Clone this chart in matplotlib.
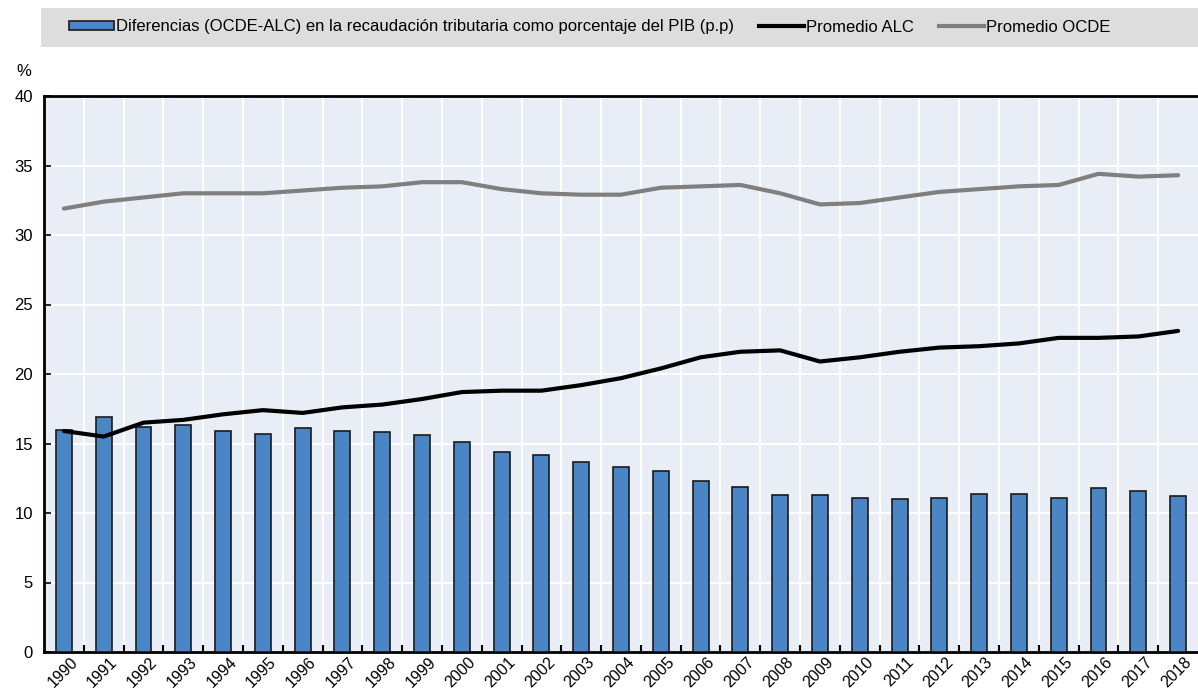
import matplotlib.pyplot as plt
import matplotlib.transforms as mtransforms
from matplotlib.patches import Rectangle, Patch
from matplotlib.lines import Line2D
import numpy as np

plt.rcParams["font.family"] = ["Liberation Sans", "DejaVu Sans"]
plt.rcParams["font.size"] = 12

# data
years = [str(y) for y in range(1990, 2019)]
diferencias = [16.0, 16.9, 16.2, 16.3, 15.9, 15.7, 16.1, 15.9, 15.8, 15.6,
               15.1, 14.4, 14.2, 13.7, 13.3, 13.0, 12.3, 11.9, 11.3, 11.3,
               11.1, 11.0, 11.1, 11.4, 11.4, 11.1, 11.8, 11.6, 11.2]
promedio_alc = [15.9, 15.5, 16.5, 16.7, 17.1, 17.4, 17.2, 17.6, 17.8, 18.2,
                18.7, 18.8, 18.8, 19.2, 19.7, 20.4, 21.2, 21.6, 21.7, 20.9,
                21.2, 21.6, 21.9, 22.0, 22.2, 22.6, 22.6, 22.7, 23.1]
promedio_ocde = [31.9, 32.4, 32.7, 33.0, 33.0, 33.0, 33.2, 33.4, 33.5, 33.8,
                 33.8, 33.3, 33.0, 32.9, 32.9, 33.4, 33.5, 33.6, 33.0, 32.2,
                 32.3, 32.7, 33.1, 33.3, 33.5, 33.6, 34.4, 34.2, 34.3]

bar_label = "Diferencias (OCDE-ALC) en la recaudación tributaria como porcentaje del PIB (p.p)"

# Plot settings
fig = plt.figure(figsize=(11.98, 6.93), dpi=100)
ax = fig.add_axes([44 / 1198, 41 / 693, 1154 / 1198, 556 / 693])
ax.set_facecolor("#E9EDF6")

x = np.arange(len(years))
ax.bar(x, diferencias, width=0.4, color="#4A86C6", edgecolor="#1a1a1a", linewidth=1.2, zorder=3)
ax.plot(x, promedio_ocde, color="#7F7F7F", linewidth=3, solid_joinstyle="round",
        solid_capstyle="round", zorder=4)
ax.plot(x, promedio_alc, color="black", linewidth=3, solid_joinstyle="round",
        solid_capstyle="round", zorder=5)

ax.set_xlim(-0.5, len(years) - 0.5)
ax.set_ylim(0, 40)
ax.set_yticks(range(0, 41, 5))

# gridlines: white, vertical between categories
for b in np.arange(0.5, len(years) - 0.5, 1):
    ax.axvline(b, color="white", linewidth=1.5, zorder=1)
for v in range(5, 40, 5):
    ax.axhline(v, color="white", linewidth=1.5, zorder=1)

ax.set_xticks(np.arange(0.5, len(years) - 0.5, 1))
ax.set_xticklabels([])
ax.set_xticks(x, minor=True)
ax.set_xticklabels(years, minor=True, rotation=45, ha="right", rotation_mode="anchor")
ax.tick_params(axis="x", which="major", direction="in", length=5, width=1.5, color="black")
ax.tick_params(axis="x", which="minor", length=0, pad=2, labelsize=11.5)
ax.tick_params(axis="y", direction="in", length=5, width=1.2, labelsize=12, pad=8)
offset = mtransforms.ScaledTranslation(6 / 100, 0, fig.dpi_scale_trans)
for lbl in ax.get_xticklabels(minor=True):
    lbl.set_transform(lbl.get_transform() + offset)

for side in ["left", "bottom", "top"]:
    ax.spines[side].set_linewidth(2)
    ax.spines[side].set_color("black")
ax.spines["right"].set_visible(False)

fig.text(24 / 1198, 1 - 72 / 693, "%", ha="center", va="center", fontsize=12)

# legend band
fig.patches.append(Rectangle((41 / 1198, 1 - 47 / 693), 1157 / 1198, 39 / 693,
                             transform=fig.transFigure, facecolor="#DDDDDD",
                             edgecolor="none", zorder=0))
handles = [Patch(facecolor="#4A86C6", edgecolor="#1a1a1a", linewidth=1.2),
           Line2D([], [], color="black", linewidth=3),
           Line2D([], [], color="#7F7F7F", linewidth=3)]
fig.legend(handles, [bar_label, "Promedio ALC", "Promedio OCDE"], ncol=3,
           loc="center", bbox_to_anchor=(590 / 1198, 1 - 27 / 693), frameon=False,
           fontsize=12, handlelength=2.7, handleheight=0.42, handletextpad=0.12,
           columnspacing=1.5)

fig.savefig("out.png", dpi=100)
